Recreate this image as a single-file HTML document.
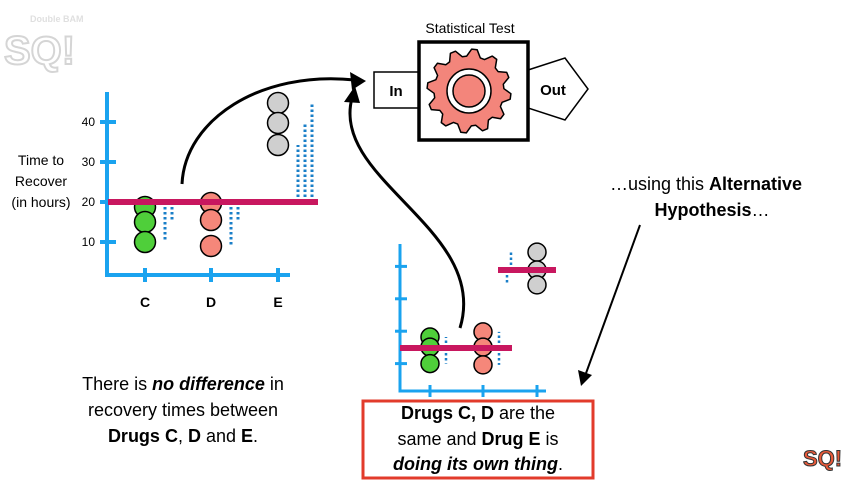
<!DOCTYPE html>
<html><head><meta charset="utf-8"><style>
body{margin:0;background:#fff}
svg text{font-family:"Liberation Sans",sans-serif}
</style></head><body>
<svg id="s" width="846" height="486" viewBox="0 0 846 486" xmlns="http://www.w3.org/2000/svg">
<g opacity="0.3"><text x="4" y="64" font-size="40" font-weight="bold" fill="#fff" stroke="#777" stroke-width="2">SQ!</text><text x="30" y="22" font-size="9" font-weight="bold" fill="#999">Double BAM</text></g>
<g><text x="803" y="466" font-size="22" font-weight="bold" fill="#e85a3a" stroke="#333" stroke-width="1">SQ!</text></g>
<text x="470" y="33" text-anchor="middle" font-size="14">Statistical Test</text>
<g>
<rect x="374" y="72" width="45" height="36" fill="#fff" stroke="#000" stroke-width="1.5"/>
<text x="396" y="96" text-anchor="middle" font-size="15" font-weight="bold">In</text>
<polygon points="528,70 565,58 588,89 565,120 528,108" fill="#fff" stroke="#000" stroke-width="1.5"/>
<text x="553" y="95" text-anchor="middle" font-size="15" font-weight="bold">Out</text>
<rect x="419" y="42" width="109" height="98" fill="#fff" stroke="#000" stroke-width="3.5"/>
<g id="gear"></g>
</g>
<g id="c1"></g>
<g id="c2"></g>
<g fill="none" stroke="#000" stroke-width="3">
<path d="M182,184 C185,120 260,70 355,80"/>
<polygon points="366,81 350,72 352,90" fill="#000" stroke="none"/>
<path d="M460,328 C490,230 330,180 352,98"/>
<polygon points="355,86 344,102 360,103" fill="#000" stroke="none"/>
<path d="M640,225 L585,376" stroke-width="2"/>
<polygon points="581,386 578,370 592,375" fill="#000" stroke="none"/>
</g>
<g font-size="18" text-anchor="middle">
<text x="183" y="390">There is <tspan font-weight="bold" font-style="italic">no difference</tspan> in</text>
<text x="183" y="416">recovery times between</text>
<text x="183" y="442"><tspan font-weight="bold">Drugs C</tspan>, <tspan font-weight="bold">D</tspan> and <tspan font-weight="bold">E</tspan>.</text>
</g>
<g font-size="18" text-anchor="middle">
<text x="706" y="190">…using this <tspan font-weight="bold">Alternative</tspan></text>
<text x="712" y="216"><tspan font-weight="bold">Hypothesis</tspan>…</text>
</g>
<rect x="363" y="401" width="230" height="77" fill="none" stroke="#e23b2b" stroke-width="3"/>
<g font-size="18" text-anchor="middle">
<text x="478" y="419"><tspan font-weight="bold">Drugs C, D</tspan> are the</text>
<text x="478" y="445">same and <tspan font-weight="bold">Drug E</tspan> is</text>
<text x="478" y="470" font-weight="bold" font-style="italic">doing its own thing<tspan font-style="normal" font-weight="normal">.</tspan></text>
</g>
</svg>
<script>
const NS="http://www.w3.org/2000/svg";
// chart 1 data
const cats1=["C","D","E"];
const vals1=[[10,15,18.75],[9,15.5,19.75],[34.25,39.75,44.75]];
const mean1=20;
const yTicks1=[10,20,30,40];
// chart 2 data
const vals2=[[10,15.1,18.2],[9.6,15.1,19.8],[34.3,38.9,44.4]];
const groupMean2=[14.8,14.8,38.9];
const yTicks2=[10,20,30,40];
const colors=["#4fcf3a","#f5877a","#cfcfcf"];
function el(p,t,a){const e=document.createElementNS(NS,t);for(const k in a)e.setAttribute(k,a[k]);p.appendChild(e);return e;}
const blue="#1aa3ef",mag="#c8175f";
// gear
(function(){const g=document.getElementById('gear');const cx=469,cy=91,R=42,r=35,n=12;let d="";
for(let i=0;i<n*4;i++){const a=(i+0.5)/(n*4)*Math.PI*2;const rr=(i%4<2)?R:r;d+=(i?"L":"M")+(cx+rr*Math.cos(a)).toFixed(1)+","+(cy+rr*Math.sin(a)).toFixed(1);}
el(g,'path',{d:d+"Z",fill:"#f3857b",stroke:"#000","stroke-width":1.5,"stroke-linejoin":"round"});
el(g,'circle',{cx,cy,r:22,fill:"#fff",stroke:"#000","stroke-width":1.5});
el(g,'circle',{cx,cy,r:16,fill:"#f3857b",stroke:"#000","stroke-width":1.5});})();
// chart 1
(function(){const g=document.getElementById('c1');
const y=v=>282-4*v;const xs=[145,211,278];
el(g,'path',{d:"M107,92 V275 H290",fill:"none",stroke:blue,"stroke-width":4});
yTicks1.forEach(t=>{const l=el(g,'line',{x1:100,x2:116,y1:y(t),y2:y(t),stroke:blue,"stroke-width":4});

const tx=el(g,'text',{x:95,y:y(t)+4,"text-anchor":"end","font-size":12});tx.textContent=t;
});
cats1.forEach((c,i)=>{el(g,'line',{x1:xs[i],x2:xs[i],y1:268,y2:282,stroke:blue,"stroke-width":4});
const tx=el(g,'text',{x:xs[i],y:307,"text-anchor":"middle","font-size":14,"font-weight":"bold"});tx.textContent=c;
});
[["Time to",165],["Recover",186],["(in hours)",207]].forEach(([s,yy])=>{const t=el(g,'text',{x:41,y:yy,"text-anchor":"middle","font-size":14});t.textContent=s;
});
vals1.forEach((arr,i)=>{arr.forEach((v,j)=>{const x=xs[i]+20+j*7;
const ln=el(g,'line',{x1:x,x2:x,y1:y(mean1),y2:y(v),stroke:"#1a7fc8","stroke-width":3,"stroke-dasharray":"2.5,2.5"});
});});
vals1.forEach((arr,i)=>{[...arr].reverse().forEach(v=>{const c=el(g,'circle',{cx:xs[i],cy:y(v),r:10.5,fill:colors[i],stroke:"#000","stroke-width":1.5});
});});
const m=el(g,'line',{x1:108,x2:318,y1:y(mean1),y2:y(mean1),stroke:mag,"stroke-width":6});
})();
// chart 2
(function(){const g=document.getElementById('c2');
const y=v=>396-3.24*v;const xs=[430,483,537];
el(g,'path',{d:"M400,244 V391 H546",fill:"none",stroke:blue,"stroke-width":3});
yTicks2.forEach(t=>{const l=el(g,'line',{x1:395,x2:407,y1:y(t),y2:y(t),stroke:blue,"stroke-width":3});
});
xs.forEach(x=>{const l=el(g,'line',{x1:x,x2:x,y1:385,y2:397,stroke:blue,"stroke-width":3});
});
vals2.forEach((arr,i)=>{const offs=i==2?[-30,-30,-26]:[16,27,16];arr.forEach((v,j)=>{const x=xs[i]+offs[j];
const ln=el(g,'line',{x1:x,x2:x,y1:y(groupMean2[i]),y2:y(v),stroke:"#1a7fc8","stroke-width":2.5,"stroke-dasharray":"2.5,2.5"});
});});
vals2.forEach((arr,i)=>{[...arr].reverse().forEach(v=>{const c=el(g,'circle',{cx:xs[i],cy:y(v),r:9,fill:colors[i],stroke:"#000","stroke-width":1.5});
});});
const m1=el(g,'line',{x1:400,x2:512,y1:y(groupMean2[0]),y2:y(groupMean2[0]),stroke:mag,"stroke-width":6});

const m2=el(g,'line',{x1:498,x2:556,y1:y(groupMean2[2]),y2:y(groupMean2[2]),stroke:mag,"stroke-width":6});
})();
</script>
</body></html>
